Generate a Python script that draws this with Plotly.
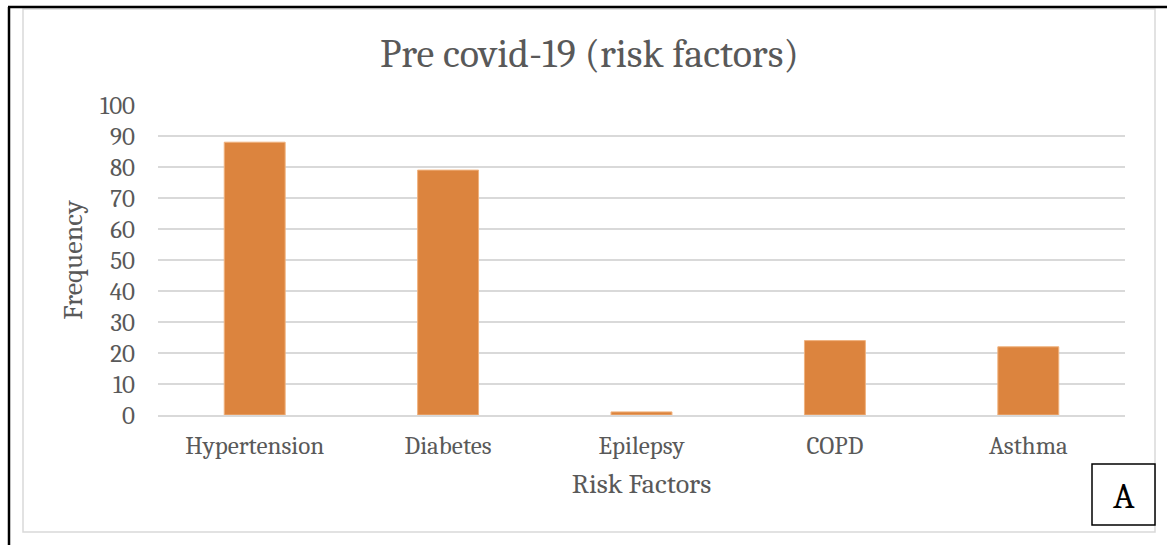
import plotly.graph_objects as go

# Risk factor counts before COVID-19
categories = ["Hypertension", "Diabetes", "Epilepsy", "COPD", "Asthma"]
frequency = [88, 79, 1, 24, 22]
y_ticks = [0, 10, 20, 30, 40, 50, 60, 70, 80, 90, 100]

W, H = 1167, 545
L, R, T, B = 158, 1125, 105, 415  # plot area in pixels

def px_x(px):
    return (px - L) / (R - L)

def px_y(py):
    return (B - py) / (B - T)

FONT = "Cambria, 'DejaVu Serif', serif"
TXT = "#595959"

fig = go.Figure(
    go.Bar(
        x=categories,
        y=frequency,
        marker=dict(color="#DC843E", line=dict(color="#F0B27E", width=1)),
        width=0.315,
    )
)

fig.update_layout(
    width=W,
    height=H,
    margin=dict(l=L, r=W - R, t=T, b=H - B),
    paper_bgcolor="white",
    plot_bgcolor="white",
    showlegend=False,
    font=dict(family=FONT, color=TXT, size=25),
    title=dict(
        text="Pre covid-19 (risk factors)",
        x=0.505, xanchor="center",
        y=1 - 53 / H, yanchor="middle",
        font=dict(size=40, color=TXT, family=FONT),
    ),
    xaxis=dict(
        showgrid=False,
        showline=True, linecolor="#d9d9d9", linewidth=1.5,
        ticks="", ticklabelstandoff=7,
        tickfont=dict(size=25, color=TXT),
        title=dict(text="Risk Factors", font=dict(size=28, color=TXT), standoff=15),
    ),
    yaxis=dict(
        range=[0, 100],
        tickvals=y_ticks,
        showgrid=True, gridcolor="#d9d9d9", gridwidth=1.5,
        zeroline=False, showline=False,
        ticks="", ticklabelstandoff=22,
        tickfont=dict(size=25, color=TXT),
        title=dict(text="Frequency", font=dict(size=28, color=TXT), standoff=9),
    ),
    shapes=[
        # chart frame
        dict(type="rect", xref="paper", yref="paper",
             x0=px_x(23), x1=px_x(1155), y0=px_y(532), y1=px_y(9),
             line=dict(color="#d9d9d9", width=1.5), fillcolor="rgba(0,0,0,0)", layer="below"),
        # page border lines
        dict(type="line", xref="paper", yref="paper",
             x0=px_x(8), x1=px_x(1167), y0=px_y(7), y1=px_y(7),
             line=dict(color="black", width=2.5)),
        dict(type="line", xref="paper", yref="paper",
             x0=px_x(9), x1=px_x(9), y0=px_y(7), y1=px_y(545),
             line=dict(color="black", width=2.5)),
        # panel label box
        dict(type="rect", xref="paper", yref="paper",
             x0=px_x(1092), x1=px_x(1155), y0=px_y(525), y1=px_y(464),
             line=dict(color="black", width=1.5), fillcolor="white"),
    ],
    annotations=[
        dict(text="A", xref="paper", yref="paper",
             x=px_x(1123.5), y=px_y(496), xanchor="center", yanchor="middle",
             showarrow=False, font=dict(size=36, color="black", family=FONT)),
    ],
)

fig.write_html("out.html")
